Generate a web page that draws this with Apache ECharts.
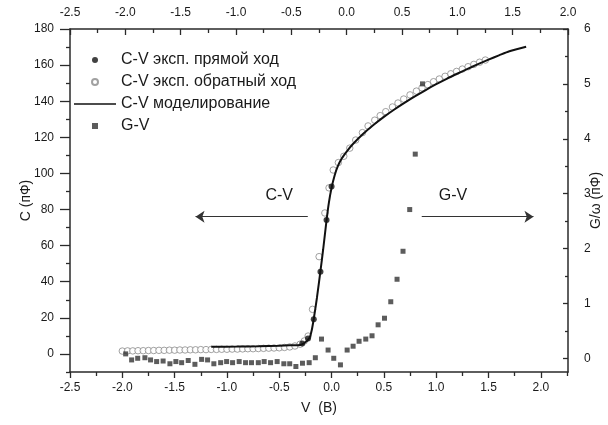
<!DOCTYPE html>
<html>
<head>
<meta charset="utf-8">
<script src="https://cdn.jsdelivr.net/npm/echarts@6/dist/echarts.min.js"></script>
<style>
html, body { margin: 0; padding: 0; background: #fff; }
#chart-container { width: 608px; height: 425px; }
</style>
</head>
<body>
<div id="chart-container"></div>
<script>
// прямой ход (filled dots)
const fwdV = [-0.28, -0.225, -0.17, -0.106, -0.048, 0.0];
const fwdC = [5.8, 8.5, 19.2, 45.6, 74.2, 92.7];

// обратный ход (open circles)
const revV = [-2.00, -1.95, -1.90, -1.85, -1.80, -1.75, -1.70, -1.65, -1.60, -1.55,
  -1.50, -1.45, -1.40, -1.35, -1.30, -1.25, -1.20, -1.15, -1.10, -1.05,
  -1.00, -0.95, -0.90, -0.85, -0.80, -0.75, -0.70, -0.65, -0.60, -0.55,
  -0.50, -0.45, -0.40, -0.35, -0.30, -0.26, -0.224, -0.182, -0.119, -0.064,
  -0.024, 0.016, 0.065, 0.117, 0.174, 0.231, 0.295, 0.349, 0.413, 0.465,
  0.518, 0.582, 0.635, 0.69, 0.75, 0.811, 0.865, 0.92, 0.975, 1.03,
  1.085, 1.14, 1.195, 1.25, 1.305, 1.36, 1.415, 1.47];
const revC = [1.6, 1.7, 1.7, 1.8, 1.8, 1.9, 1.9, 2.0, 2.0, 2.1,
  2.1, 2.2, 2.2, 2.3, 2.3, 2.4, 2.4, 2.5, 2.5, 2.6,
  2.6, 2.7, 2.7, 2.8, 2.9, 2.9, 3.0, 3.1, 3.2, 3.3,
  3.4, 3.6, 3.9, 4.4, 5.4, 7.2, 9.9, 24.7, 53.9, 78.1,
  92.0, 101.9, 106.0, 109.5, 114.0, 118.5, 122.6, 126.3, 129.5, 132.0,
  134.2, 136.8, 139.0, 141.2, 143.5, 145.6, 147.4, 149.2, 150.8, 152.3,
  153.8, 155.2, 156.5, 157.8, 159.1, 160.4, 161.6, 162.8];

// моделирование (line)
const modV = [-1.15, -0.9, -0.7, -0.5, -0.4, -0.3, -0.25, -0.21, -0.19, -0.17,
  -0.14, -0.106, -0.08, -0.048, -0.025, 0.0, 0.03, 0.06, 0.1, 0.15,
  0.2, 0.3, 0.4, 0.5, 0.6, 0.7, 0.8, 0.9, 1.0, 1.1,
  1.2, 1.3, 1.4, 1.5, 1.6, 1.7, 1.86];
const modC = [4.0, 4.1, 4.3, 4.6, 4.8, 5.0, 6.5, 9.0, 13.0, 19.5,
  31.0, 46.0, 58.0, 74.0, 84.0, 92.0, 99.0, 104.0, 108.5, 112.5,
  116.0, 121.8, 126.8, 131.3, 135.4, 139.2, 142.8, 146.2, 149.4, 152.4,
  155.2, 157.9, 160.5, 163.0, 165.4, 167.7, 170.2];

// G-V (squares, right axis)
const gvV = [-1.968, -1.911, -1.853, -1.784, -1.73, -1.672, -1.61, -1.545, -1.488, -1.433,
  -1.37, -1.306, -1.242, -1.185, -1.125, -1.06, -1.003, -0.946, -0.883, -0.822,
  -0.765, -0.70, -0.644, -0.583, -0.52, -0.456, -0.40, -0.341, -0.278, -0.214,
  -0.155, -0.096, -0.033, 0.021, 0.085, 0.149, 0.206, 0.263, 0.327, 0.387,
  0.445, 0.506, 0.566, 0.626, 0.683, 0.747, 0.80, 0.869];
const gvG = [0.08, -0.03, 0.0, 0.01, -0.03, -0.06, -0.05, -0.10, -0.06, -0.08,
  -0.04, -0.11, -0.02, -0.03, -0.10, -0.08, -0.06, -0.08, -0.06, -0.08,
  -0.08, -0.08, -0.06, -0.08, -0.06, -0.10, -0.10, -0.15, -0.09, -0.08,
  0.01, 0.35, 0.15, 0.0, -0.12, 0.15, 0.22, 0.31, 0.35, 0.41,
  0.61, 0.73, 1.03, 1.44, 1.95, 2.71, 3.72, 5.0];

// ticks
const bottomMajor = [-2.5, -2.0, -1.5, -1.0, -0.5, 0.0, 0.5, 1.0, 1.5, 2.0];
const bottomMinor = [-2.25, -1.75, -1.25, -0.75, -0.25, 0.25, 0.75, 1.25, 1.75, 2.25];
const topMajor = [-2.5, -2.0, -1.5, -1.0, -0.5, 0.0, 0.5, 1.0, 1.5, 2.0];
const topMinor = [-2.25, -1.75, -1.25, -0.75, -0.25, 0.25, 0.75, 1.25, 1.75];
const leftMajor = [0, 20, 40, 60, 80, 100, 120, 140, 160, 180];
const leftMinor = [-10, 10, 30, 50, 70, 90, 110, 130, 150, 170];
const rightMajor = [0, 1, 2, 3, 4, 5, 6];
const rightMinor = [0.5, 1.5, 2.5, 3.5, 4.5, 5.5];

const FONT = 'Liberation Sans, Arial, sans-serif';
const AX = '#2a2a2a';

function zip(a, b) {
  return a.map(function (v, i) { return [v, b[i]]; });
}

function axis(o) {
  return {
    type: 'value',
    position: o.position,
    min: o.min,
    max: o.max,
    scale: true,
    splitLine: { show: false },
    axisLine: { show: o.line, onZero: false, lineStyle: { color: AX, width: 1.5 } },
    axisTick: { show: true, inside: o.inside, length: o.len, customValues: o.ticks,
      lineStyle: { color: AX, width: 1.3 } },
    axisLabel: o.labels ? {
      show: true, customValues: o.ticks, margin: o.margin, color: '#1a1a1a',
      fontFamily: FONT, fontSize: 12, formatter: o.fmt
    } : { show: false },
    name: o.name || '',
    nameLocation: 'middle',
    nameGap: o.nameGap || 0,
    nameRotate: o.nameRotate,
    nameMoveOverlap: false,
    nameTextStyle: { fontFamily: FONT, fontSize: 14, color: '#1a1a1a' }
  };
}

const fmt1 = function (v) { return v.toFixed(1); };
const fmt0 = function (v) { return String(Math.round(v)); };

var dom = document.getElementById('chart-container');
var myChart = echarts.init(dom, null, { renderer: 'canvas' });

var option = {
  animation: false,
  backgroundColor: '#fff',
  grid: { left: 70, right: 40, top: 29, bottom: 53, outerBoundsMode: 'none', containLabel: false },
  xAxis: [
    axis({ position: 'bottom', min: -2.5, max: 2.26, line: true, inside: false, len: 6,
      ticks: bottomMajor, labels: true, margin: 10, fmt: fmt1, name: 'V  (B)', nameGap: 29 }),
    axis({ position: 'bottom', min: -2.5, max: 2.26, line: false, inside: false, len: 4,
      ticks: bottomMinor, labels: false }),
    axis({ position: 'top', min: -2.5, max: 2.0, line: true, inside: true, len: 6,
      ticks: topMajor, labels: true, margin: 10, fmt: fmt1 }),
    axis({ position: 'top', min: -2.5, max: 2.0, line: false, inside: true, len: 4,
      ticks: topMinor, labels: false })
  ],
  yAxis: [
    axis({ position: 'left', min: -10, max: 180, line: true, inside: false, len: 10,
      ticks: leftMajor, labels: true, margin: 16, fmt: fmt0,
      name: 'C (пФ)', nameGap: 37, nameRotate: 90 }),
    axis({ position: 'left', min: -10, max: 180, line: false, inside: false, len: 4,
      ticks: leftMinor, labels: false }),
    axis({ position: 'right', min: -0.25, max: 6, line: true, inside: true, len: 5,
      ticks: rightMajor, labels: true, margin: 16, fmt: fmt0,
      name: 'G/\u03c9 (пФ)', nameGap: 21, nameRotate: 90 }),
    axis({ position: 'right', min: -0.25, max: 6, line: false, inside: true, len: 3,
      ticks: rightMinor, labels: false })
  ],
  legend: {
    orient: 'vertical',
    left: 69,
    top: 47,
    itemWidth: 42,
    itemHeight: 6,
    itemGap: 6,
    symbolKeepAspect: true,
    textStyle: { fontFamily: FONT, fontSize: 16, color: '#1a1a1a' },
    data: [
      { name: 'C-V эксп. прямой ход', icon: 'circle' },
      { name: 'C-V эксп. обратный ход', icon: 'circle' },
      { name: 'C-V моделирование', icon: 'path://M0,0h40v1.6h-40z' },
      { name: 'G-V', icon: 'path://M0,0h1v1h-1z' }
    ]
  },
  series: [
    {
      name: 'C-V эксп. обратный ход',
      type: 'scatter',
      xAxisIndex: 0, yAxisIndex: 0,
      symbol: 'circle',
      symbolSize: 6.5,
      itemStyle: { color: '#fff', borderColor: '#8a8a8a', borderWidth: 1 },
      data: zip(revV, revC)
    },
    {
      name: 'C-V моделирование',
      type: 'line',
      xAxisIndex: 0, yAxisIndex: 0,
      symbol: 'none',
      smooth: 0.25,
      lineStyle: { color: '#111', width: 2 },
      itemStyle: { color: '#111' },
      data: zip(modV, modC),
      markLine: {
        silent: true,
        symbol: ['none', 'arrow'],
        symbolSize: 9,
        lineStyle: { color: '#333', width: 1, type: 'solid' },
        label: { show: false },
        data: [
          [{ coord: [-0.227, 76] }, { coord: [-1.3, 76] }],
          [{ coord: [0.862, 76] }, { coord: [1.93, 76] }]
        ]
      },
      markPoint: {
        silent: true,
        symbol: 'rect',
        symbolSize: 1,
        itemStyle: { color: 'rgba(0,0,0,0)' },
        label: {
          show: true, position: 'inside', color: '#1a1a1a',
          fontFamily: FONT, fontSize: 16,
          formatter: function (p) { return p.name; }
        },
        data: [
          { name: 'C-V', coord: [-0.5, 87.5] },
          { name: 'G-V', coord: [1.16, 87.5] }
        ]
      }
    },
    {
      name: 'C-V эксп. прямой ход',
      type: 'scatter',
      xAxisIndex: 0, yAxisIndex: 0,
      symbol: 'circle',
      symbolSize: 6,
      itemStyle: { color: '#111' },
      data: zip(fwdV, fwdC)
    },
    {
      name: 'G-V',
      type: 'scatter',
      xAxisIndex: 0, yAxisIndex: 2,
      symbol: 'rect',
      symbolSize: 5,
      itemStyle: { color: '#333' },
      data: zip(gvV, gvG)
    }
  ]
};

myChart.setOption(option);
</script>
</body>
</html>
